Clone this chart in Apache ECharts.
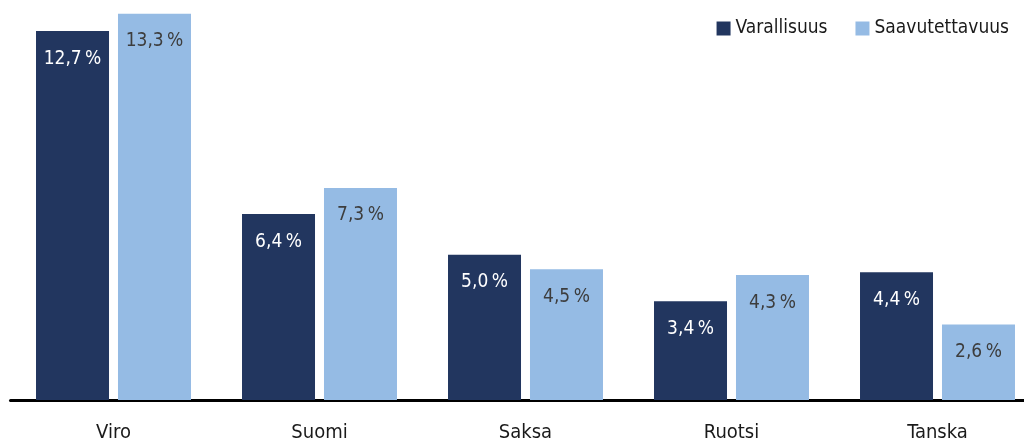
<!DOCTYPE html>
<html><head><meta charset="utf-8">
<script src="https://cdn.jsdelivr.net/npm/echarts@6/dist/echarts.min.js"></script>
<style>html,body{margin:0;padding:0;background:#fff}#c{width:1024px;height:443px}</style>
</head><body><div id="c"></div>
<script>
const categories = ['Viro', 'Suomi', 'Saksa', 'Ruotsi', 'Tanska'];
const varallisuus = [12.7, 6.4, 5.0, 3.4, 4.4];
const saavutettavuus = [13.3, 7.3, 4.5, 4.3, 2.6];
const seriesNames = ['Varallisuus', 'Saavutettavuus'];

const FONT = '"DejaVu Sans Condensed", "Liberation Sans Narrow", sans-serif';
const fmt = p => p.value.toFixed(1).replace('.', ',') + '\u2009%';

const chart = echarts.init(document.getElementById('c'));
chart.setOption({
  animation: false,
  textStyle: { fontFamily: FONT },
  legend: {
    right: 10, top: 14,
    itemWidth: 14, itemHeight: 14, itemGap: 28,
    icon: 'rect',
    textStyle: { fontFamily: FONT, fontSize: 19, color: '#1a1a1a' },
    data: seriesNames
  },
  grid: { left: 10.5, right: -16.5, top: 0, bottom: 43, containLabel: false, outerBoundsMode: 'none' },
  xAxis: {
    type: 'category', data: categories,
    axisLine: { lineStyle: { color: '#000', width: 3 } },
    axisTick: { show: false },
    axisLabel: { fontFamily: FONT, fontSize: 20, color: '#1a1a1a', margin: 23 }
  },
  yAxis: { type: 'value', min: 0, max: 13.77, show: false, splitLine: { show: false } },
  series: [
    {
      name: seriesNames[0], type: 'bar', data: varallisuus,
      barWidth: 73, barGap: '12.3%',
      itemStyle: { color: '#22365f' },
      label: { show: true, position: 'insideTop', distance: 18, formatter: fmt,
        fontFamily: FONT, fontSize: 19, color: '#ffffff' }
    },
    {
      name: seriesNames[1], type: 'bar', data: saavutettavuus,
      barWidth: 73,
      itemStyle: { color: '#95bbe4' },
      label: { show: true, position: 'insideTop', distance: 18, formatter: fmt,
        fontFamily: FONT, fontSize: 19, color: '#3d3d3d' }
    }
  ]
});
</script></body></html>
